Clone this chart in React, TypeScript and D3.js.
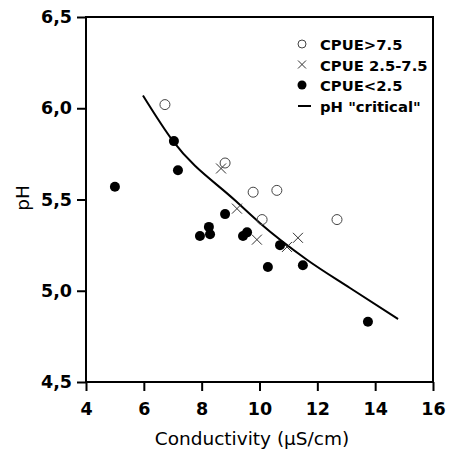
import React, { useEffect, useRef } from "react"
import { scaleLinear, line, curveMonotoneX, axisBottom, axisLeft, select } from "d3"

const cpueHigh = [
	[6.73, 6.02], [8.81, 5.7], [9.78, 5.54], [10.6, 5.55], [10.09, 5.39], [12.68, 5.39],
]
const cpueMid = [
	[8.67, 5.67], [9.22, 5.45], [9.91, 5.28], [10.95, 5.24], [11.33, 5.29],
]
const cpueLow = [
	[5.0, 5.57], [7.04, 5.82], [7.18, 5.66], [7.94, 5.3], [8.25, 5.35], [8.29, 5.31],
	[8.81, 5.42], [9.43, 5.3], [9.57, 5.32], [10.71, 5.25], [10.29, 5.13], [11.5, 5.14],
	[13.75, 4.83],
]
/** pH "critical" curve */
const criticalCurve = [
	[5.97, 6.07], [7.01, 5.82], [9.19, 5.49], [10.02, 5.37], [11.64, 5.17], [13.13, 5.015], [14.79, 4.845],
]

const xTicks = [4, 6, 8, 10, 12, 14, 16]
const yTicks = [4.5, 5.0, 5.5, 6.0, 6.5]
const yTickLabels = ["4,5", "5,0", "5,5", "6,0", "6,5"]
const legendLabels = ["CPUE>7.5", "CPUE 2.5-7.5", "CPUE<2.5", 'pH "critical"']

export default function App() {
	const width = 452
	const height = 453
	const left = 86
	const right = 433
	const top = 17
	const bottom = 382

	const xScale = scaleLinear().domain([4, 16]).range([left, right])
	const yScale = scaleLinear().domain([4.5, 6.5]).range([bottom, top])

	const curvePath = line<number[]>()
		.x(d => xScale(d[0]))
		.y(d => yScale(d[1]))
		.curve(curveMonotoneX)(criticalCurve)

	const xAxisRef = useRef<SVGGElement>(null)
	const yAxisRef = useRef<SVGGElement>(null)

	useEffect(() => {
		const xAxis = axisBottom(xScale).tickValues(xTicks).tickSize(9).tickPadding(12).tickSizeOuter(0)
		const gx = select(xAxisRef.current!)
		gx.call(xAxis as any)
		gx.select(".domain").remove()
		gx.selectAll(".tick line").attr("stroke-width", 2)
		gx.selectAll("text").attr("font-size", 17.5).attr("font-weight", "bold").attr("font-family", "DejaVu Sans")

		const yAxis = axisLeft(yScale)
			.tickValues(yTicks)
			.tickFormat((d, i) => yTickLabels[i])
			.tickSize(9)
			.tickPadding(5)
			.tickSizeOuter(0)
		const gy = select(yAxisRef.current!)
		gy.call(yAxis as any)
		gy.select(".domain").remove()
		gy.selectAll(".tick line").attr("stroke-width", 2)
		gy.selectAll("text").attr("font-size", 17.5).attr("font-weight", "bold").attr("font-family", "DejaVu Sans")
	}, [])

	const legendX = 302
	const legendRows = [44, 64.5, 85, 106]

	return (
		<svg width={width} height={height} style={{ position: "absolute", left: 0, top: 0, background: "#fff" }}>
			<rect x={0} y={0} width={width} height={height} fill="#fff" />
			<g ref={xAxisRef} transform={`translate(0, ${bottom})`} />
			<g ref={yAxisRef} transform={`translate(${left}, 0)`} />
			<rect x={left} y={top} width={right - left} height={bottom - top} fill="none" stroke="#000" strokeWidth={2} />

			{curvePath && <path d={curvePath} fill="none" stroke="#000" strokeWidth={2} />}

			{cpueHigh.map((d, i) => (
				<circle key={"h" + i} cx={xScale(d[0])} cy={yScale(d[1])} r={5} fill="none" stroke="#444" strokeWidth={1} />
			))}
			{cpueMid.map((d, i) => {
				const cx = xScale(d[0])
				const cy = yScale(d[1])
				return (
					<path key={"m" + i} d={`M${cx - 5},${cy - 5}L${cx + 5},${cy + 5}M${cx - 5},${cy + 5}L${cx + 5},${cy - 5}`} stroke="#333" strokeWidth={1} />
				)
			})}
			{cpueLow.map((d, i) => (
				<circle key={"l" + i} cx={xScale(d[0])} cy={yScale(d[1])} r={5} fill="#000" />
			))}

			{/* legend */}
			<g fontFamily="DejaVu Sans" fontWeight="bold" fontSize={14.8}>
				<circle cx={legendX} cy={legendRows[0]} r={4} fill="none" stroke="#444" strokeWidth={1} />
				<path d={`M${legendX - 4},${legendRows[1] - 4}L${legendX + 4},${legendRows[1] + 4}M${legendX - 4},${legendRows[1] + 4}L${legendX + 4},${legendRows[1] - 4}`} stroke="#333" strokeWidth={1} />
				<circle cx={legendX} cy={legendRows[2]} r={4.5} fill="#000" />
				<line x1={legendX - 4} x2={legendX + 9} y1={legendRows[3]} y2={legendRows[3]} stroke="#000" strokeWidth={2} />
				{legendLabels.map((t, i) => (
					<text key={t} x={320} y={legendRows[i] + 6}>{t}</text>
				))}
			</g>

			<text x={252} y={445} textAnchor="middle" fontFamily="DejaVu Sans" fontSize={18.5}>Conductivity (µS/cm)</text>
			<text transform={`translate(29, 198) rotate(-90)`} textAnchor="middle" fontFamily="DejaVu Sans" fontSize={18.5}>pH</text>
		</svg>
	)
}
